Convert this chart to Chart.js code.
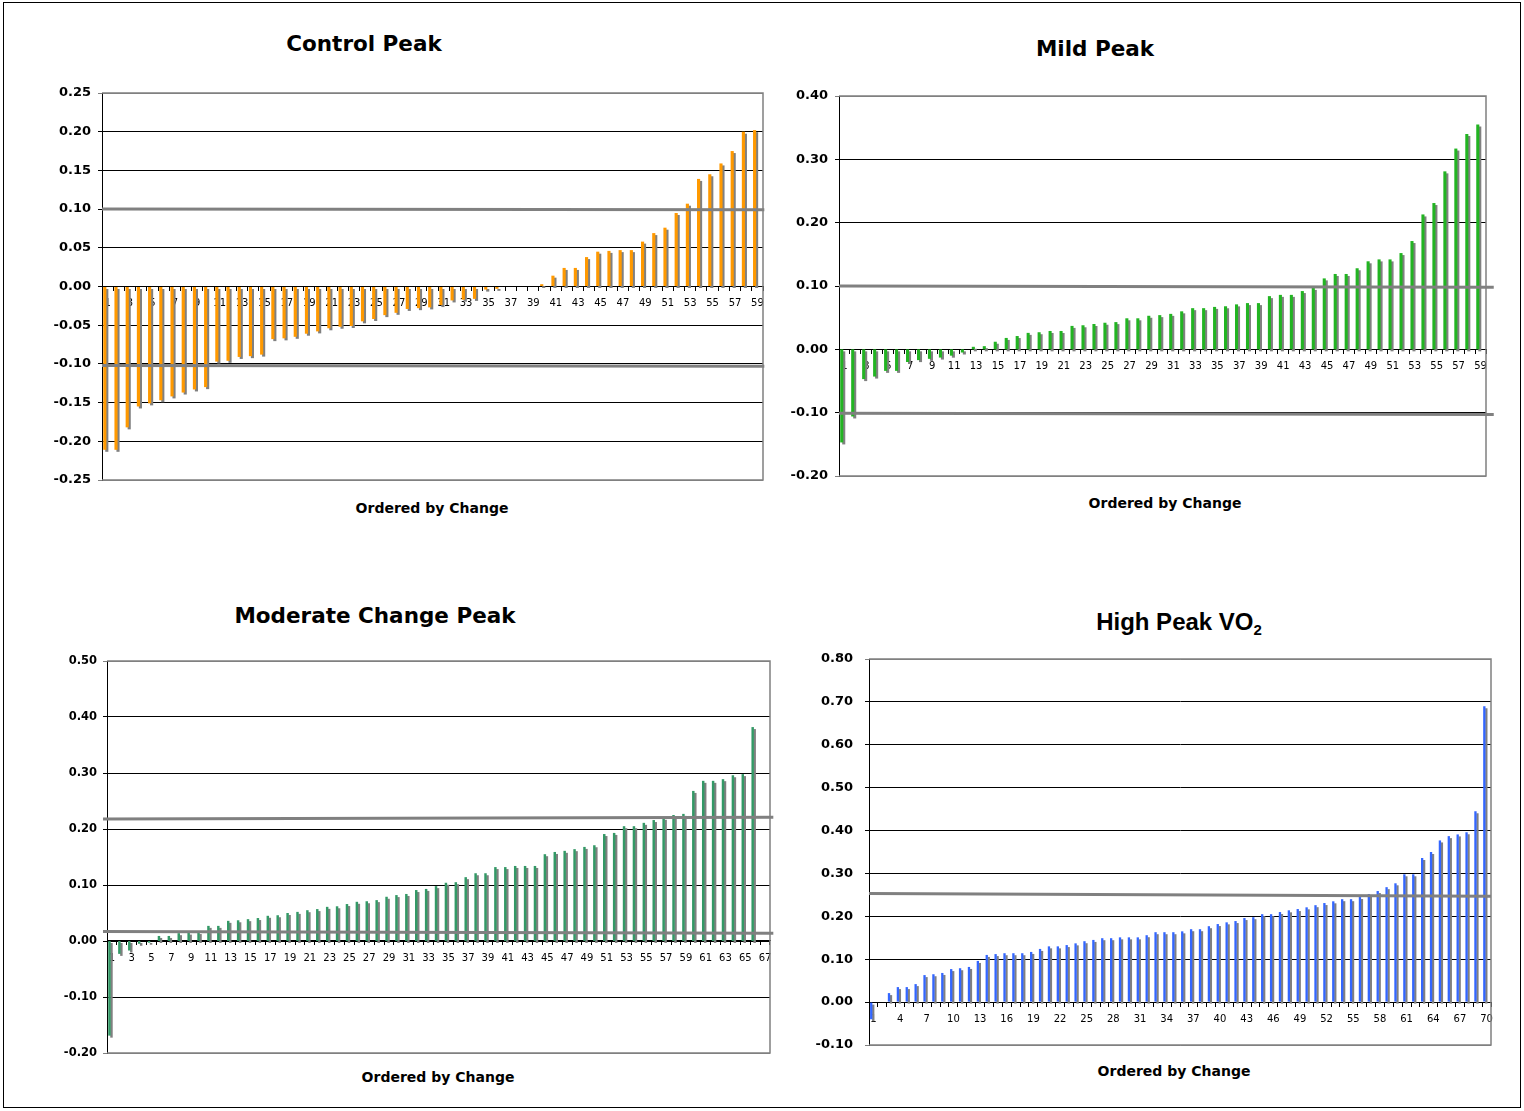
<!DOCTYPE html>
<html>
<head>
<meta charset="utf-8">
<script src="https://cdn.jsdelivr.net/npm/chart.js@4.4.1/dist/chart.umd.min.js"></script>
<style>
  body { margin: 0; background: #fff; font-family: "DejaVu Sans", Verdana, sans-serif; }
  #page { position: relative; width: 1524px; height: 1111px; overflow: hidden; }
  #frame { position: absolute; left: 3px; top: 2px; width: 1518px; height: 1106px; border: 1px solid #000; box-sizing: border-box; }
  canvas { position: absolute; }
  .title { position: absolute; transform: translate(-50%, -50%); font-weight: bold; font-size: 21.5px; white-space: nowrap; color: #000; }
  .title.arial { font-family: "Liberation Sans", Arial, sans-serif; font-size: 24px; }
  .title sub { font-size: 15px; vertical-align: -5px; line-height: 0; }
  .xtitle { position: absolute; transform: translate(-50%, -50%); font-weight: bold; font-size: 14px; white-space: nowrap; color: #000; }
</style>
</head>
<body>
<div id="page">
  <div id="frame"></div>
  <div class="title" style="left:364px; top:43px;">Control Peak</div>
  <div class="title" style="left:1095px; top:48px;">Mild Peak</div>
  <div class="title" style="left:375px; top:615px;">Moderate Change Peak</div>
  <div class="title arial" style="left:1179px; top:622px;">High Peak VO<sub>2</sub></div>
  <div class="xtitle" style="left:432px; top:508px;">Ordered by Change</div>
  <div class="xtitle" style="left:1165px; top:503px;">Ordered by Change</div>
  <div class="xtitle" style="left:438px; top:1077px;">Ordered by Change</div>
  <div class="xtitle" style="left:1174px; top:1071px;">Ordered by Change</div>
</div>
<script>
// values, in the order shown (ordered by change)
const controlValues = [
  -0.211, -0.211, -0.182, -0.155, -0.151, -0.147, -0.142, -0.137, -0.133, -0.130,
  -0.097, -0.096, -0.091, -0.090, -0.088, -0.068, -0.067, -0.065, -0.061, -0.058,
  -0.054, -0.052, -0.051, -0.045, -0.042, -0.037, -0.034, -0.029, -0.028, -0.027,
  -0.024, -0.018, -0.017, -0.016, -0.004, -0.003, 0, 0, 0, 0.003,
  0.014, 0.024, 0.024, 0.038, 0.045, 0.046, 0.047, 0.047, 0.058, 0.069,
  0.076, 0.095, 0.107, 0.139, 0.145, 0.159, 0.175, 0.200, 0.202
];
const mildValues = [
  -0.147, -0.106, -0.047, -0.043, -0.034, -0.034, -0.020, -0.017, -0.015, -0.013,
  -0.010, -0.005, 0.004, 0.005, 0.012, 0.018, 0.021, 0.026, 0.027, 0.029,
  0.029, 0.037, 0.038, 0.040, 0.042, 0.043, 0.049, 0.049, 0.053, 0.054,
  0.056, 0.060, 0.065, 0.065, 0.067, 0.068, 0.071, 0.073, 0.073, 0.084,
  0.086, 0.086, 0.092, 0.097, 0.112, 0.119, 0.119, 0.128, 0.139, 0.142,
  0.142, 0.152, 0.171, 0.213, 0.231, 0.281, 0.317, 0.340, 0.355
];
const moderateValues = [
  -0.169, -0.023, -0.017, -0.005, -0.003, 0.009, 0.009, 0.014, 0.015, 0.016,
  0.027, 0.027, 0.036, 0.037, 0.039, 0.041, 0.045, 0.046, 0.050, 0.052,
  0.055, 0.057, 0.061, 0.062, 0.066, 0.070, 0.071, 0.073, 0.079, 0.082,
  0.084, 0.091, 0.093, 0.098, 0.104, 0.105, 0.114, 0.121, 0.121, 0.132,
  0.132, 0.134, 0.134, 0.134, 0.155, 0.159, 0.161, 0.164, 0.168, 0.171,
  0.191, 0.193, 0.205, 0.205, 0.211, 0.216, 0.220, 0.225, 0.227, 0.268,
  0.286, 0.286, 0.289, 0.296, 0.298, 0.382, null
];
const highValues = [
  -0.040, 0, 0.021, 0.035, 0.035, 0.042, 0.063, 0.065, 0.068, 0.077,
  0.079, 0.082, 0.096, 0.110, 0.112, 0.114, 0.114, 0.114, 0.117, 0.124,
  0.130, 0.130, 0.133, 0.137, 0.142, 0.145, 0.149, 0.149, 0.151, 0.151,
  0.151, 0.156, 0.163, 0.163, 0.163, 0.165, 0.170, 0.170, 0.177, 0.182,
  0.186, 0.189, 0.196, 0.198, 0.205, 0.205, 0.210, 0.214, 0.217, 0.221,
  0.226, 0.231, 0.235, 0.240, 0.240, 0.245, 0.252, 0.259, 0.268, 0.277,
  0.298, 0.298, 0.336, 0.350, 0.377, 0.387, 0.391, 0.396, 0.445, 0.690
];

// reference lines: [value at left edge, value at right edge]
const controlRefLines = [[0.100, 0.099], [-0.102, -0.103]];
const mildRefLines = [[0.100, 0.098], [-0.101, -0.103]];
const moderateRefLines = [[0.218, 0.221], [0.017, 0.014]];
const highRefLines = [[0.253, 0.247]];

const panels = [
  { values: controlValues, refs: controlRefLines, color: '#FF9900', yMin: -0.25, yMax: 0.25, step: 0.05,
    every: 2, area: [102, 93, 763, 480], yFont: 13, yGap: 11, barPct: 0.56, lineStart: 0, lineEnd: 1.002 },
  { values: mildValues, refs: mildRefLines, color: '#22B422', yMin: -0.2, yMax: 0.4, step: 0.1,
    every: 2, area: [839, 96, 1486, 476], yFont: 13, yGap: 11, barPct: 0.56, lineStart: 0, lineEnd: 1.012 },
  { values: moderateValues, refs: moderateRefLines, color: '#339966', yMin: -0.2, yMax: 0.5, step: 0.1,
    every: 2, area: [107, 661, 770, 1053], yFont: 11.5, yGap: 10, barPct: 0.5, lineStart: -0.006, lineEnd: 1.005 },
  { values: highValues, refs: highRefLines, color: '#3366FF', yMin: -0.1, yMax: 0.8, step: 0.1,
    every: 3, area: [869, 659, 1491, 1045], yFont: 13, yGap: 16, barPct: 0.52, lineStart: 0, lineEnd: 1.0 }
];

// grey drop shadow behind each bar, like the spreadsheet original
const barShadow = {
  id: 'barShadow',
  beforeDatasetDraw(chart, args) {
    if (args.meta.type !== 'bar') return;
    const ctx = chart.ctx;
    ctx.save();
    ctx.shadowColor = '#808080';
    ctx.shadowOffsetX = 2;
    ctx.shadowOffsetY = 2;
    ctx.shadowBlur = 0;
  },
  afterDatasetDraw(chart, args) {
    if (args.meta.type === 'bar') chart.ctx.restore();
  }
};

const plotFrame = {
  id: 'plotFrame',
  beforeDatasetsDraw(chart) {
    const { ctx, chartArea: a } = chart;
    ctx.save();
    ctx.strokeStyle = '#808080';
    ctx.lineWidth = 1.5;
    ctx.beginPath();
    ctx.moveTo(a.left, a.top);
    ctx.lineTo(a.right, a.top);
    ctx.lineTo(a.right, a.bottom);
    ctx.lineTo(a.left, a.bottom);
    ctx.stroke();
    ctx.restore();
  }
};

function fmt(v) {
  return (Math.abs(v) < 1e-9 ? 0 : v).toFixed(2);
}

function makeChart(p) {
  const [L, T, R, B] = p.area;
  const canvas = document.createElement('canvas');
  canvas.width = R - L + 110;
  canvas.height = B - T + 40;
  canvas.style.left = (L - 80) + 'px';
  canvas.style.top = (T - 20) + 'px';
  document.getElementById('page').appendChild(canvas);

  const labels = p.values.map((v, i) => String(i + 1));

  const datasets = [{
    type: 'bar',
    data: p.values,
    backgroundColor: p.color,
    borderWidth: 0,
    barPercentage: p.barPct,
    categoryPercentage: 1,
    xAxisID: 'x',
    yAxisID: 'y',
    order: 2
  }];
  p.refs.forEach(r => {
    datasets.push({
      type: 'line',
      data: [{ x: p.lineStart, y: r[0] }, { x: p.lineEnd, y: r[1] }],
      xAxisID: 'xr',
      yAxisID: 'y',
      borderColor: '#808080',
      borderWidth: 3,
      pointRadius: 0,
      clip: false,
      order: 1
    });
  });

  new Chart(canvas, {
    type: 'bar',
    data: { labels, datasets },
    options: {
      responsive: false,
      animation: false,
      layout: { padding: { left: 10, top: 20, right: 30, bottom: 20 } },
      plugins: { legend: { display: false }, tooltip: { enabled: false } },
      scales: {
        x: {
          type: 'category',
          position: { y: 0 },
          offset: true,
          z: 1,
          grid: { drawOnChartArea: false, drawTicks: true, tickLength: 4, color: '#000', offset: true },
          border: { color: '#000', width: 1 },
          ticks: {
            autoSkip: false,
            maxRotation: 0,
            minRotation: 0,
            padding: 7,
            color: '#000',
            font: { size: 10, family: 'DejaVu Sans' },
            callback: (v, i) => (i % p.every === 0 ? labels[i] : '')
          }
        },
        xr: { type: 'linear', display: false, offset: false, grid: { offset: false }, bounds: 'ticks', min: 0, max: 1 },
        y: {
          position: 'left',
          min: p.yMin,
          max: p.yMax,
          afterFit: s => { s.width = 70; },
          ticks: {
            stepSize: p.step,
            padding: p.yGap - 4,
            color: '#000',
            font: { size: p.yFont, weight: 'bold', family: 'DejaVu Sans' },
            callback: v => fmt(v)
          },
          grid: {
            tickLength: 4,
            drawTicks: true,
            lineWidth: 1,
            color: c => (c.tick && (Math.abs(c.tick.value - p.yMax) < 1e-9 || Math.abs(c.tick.value - p.yMin) < 1e-9)) ? '#808080' : '#000'
          },
          border: { color: '#000', width: 1 }
        }
      }
    },
    plugins: [barShadow, plotFrame]
  });
}

panels.forEach(makeChart);
</script>
</body>
</html>
